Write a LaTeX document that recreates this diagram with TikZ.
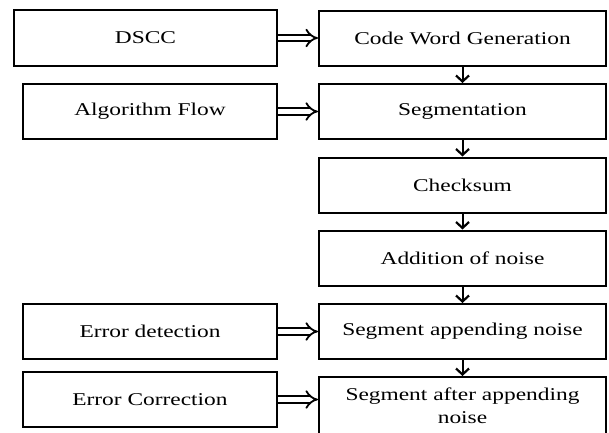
\documentclass[tikz,border=0pt]{standalone}
\usepackage{fontspec}
\setmainfont{Liberation Serif}[FakeStretch=1.3]
\usetikzlibrary{arrows.meta}
\begin{document}
\begin{tikzpicture}[x=1pt,y=-1pt,
  box/.style={draw, line width=2pt, rectangle, inner sep=0pt, align=center,
    font=\fontsize{18}{23}\selectfont},
  leftbox/.style={box, minimum width=254pt, minimum height=55pt},
  rightbox/.style={box, minimum width=287pt, minimum height=55pt},
  flow/.style={line width=2pt, -{Straight Barb[length=6pt,width=13pt,line width=2.2pt]}},
  feed/.style={double, double distance=4.5pt, line width=1.8pt, -{Implies[length=8pt]}}]
\useasboundingbox (0,0) rectangle (609,432);
% right-hand chain
\node[rightbox] (cwg) at (462.5,38) {Code Word Generation};
\node[rightbox] (seg) at (462.5,111.5) {Segmentation};
\node[rightbox] (chk) at (462.5,185) {Checksum};
\node[rightbox] (add) at (462.5,258) {Addition of noise};
\node[rightbox] (sap) at (462.5,331.5) {Segment appending noise};
\node[rightbox, minimum height=57pt] (saf) at (462.5,405.5) {Segment after appending\\noise};
% left-hand inputs
\node[box, minimum width=263pt, minimum height=56pt] (dscc) at (145.5,38) {DSCC};
\node[leftbox] (alg) at (150,111.5) {Algorithm Flow};
\node[leftbox] (det) at (150,331.5) {Error detection};
\node[leftbox] (cor) at (150,399.5) {Error Correction};
% connectors
\draw[flow] (cwg) -- (seg);
\draw[flow] (seg) -- (chk);
\draw[flow] (chk) -- (add);
\draw[flow] (add) -- (sap);
\draw[flow] (sap.south) -- (saf.north);
\draw[feed] (dscc.east) -- (cwg.west);
\draw[feed] (alg.east) -- (seg.west);
\draw[feed] (det.east) -- (sap.west);
\draw[feed] (cor.east) -- (cor.east -| saf.west);
\end{tikzpicture}
\end{document}
